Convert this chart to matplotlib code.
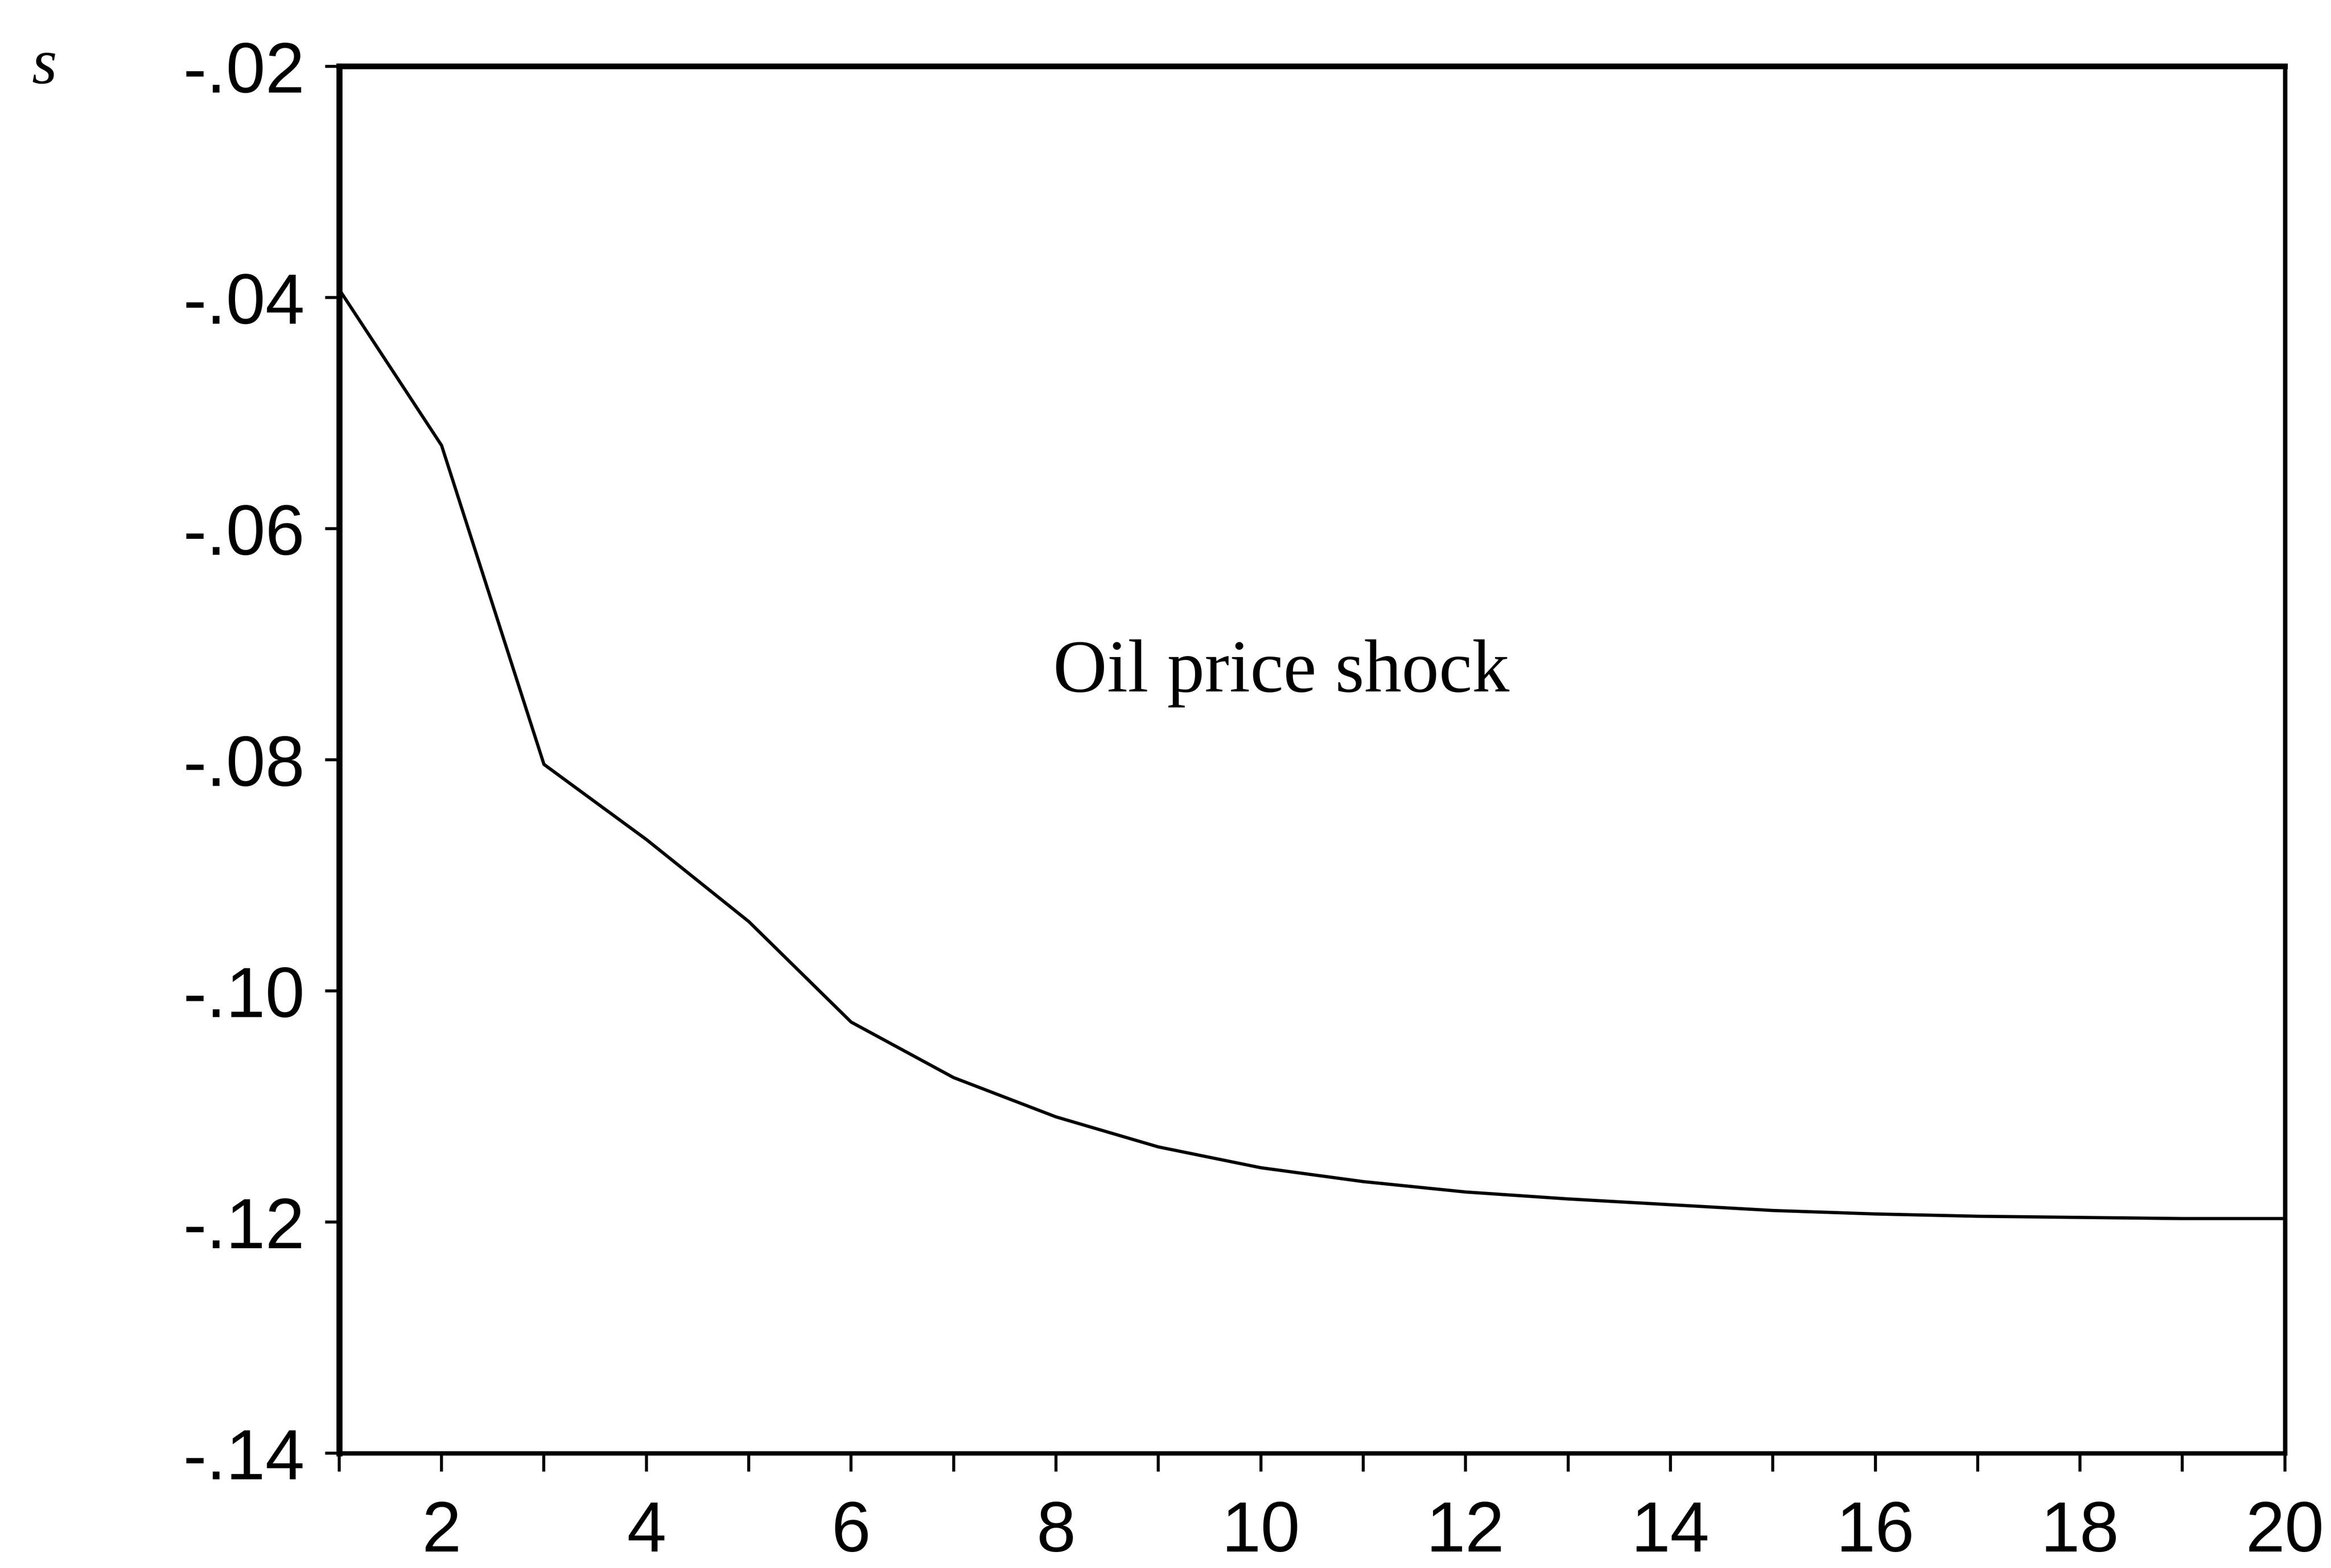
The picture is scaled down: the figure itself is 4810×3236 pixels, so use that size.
import matplotlib
matplotlib.use("Agg")
import matplotlib.pyplot as plt
from matplotlib.ticker import FixedLocator, FuncFormatter

# impulse response
periods = [1, 2, 3, 4, 5, 6, 7, 8, 9, 10, 11, 12, 13, 14, 15, 16, 17, 18, 19, 20]
response = [-0.0393, -0.0528, -0.0804, -0.0869, -0.0940, -0.1027, -0.1075, -0.1109,
            -0.1135, -0.1153, -0.1165, -0.1174, -0.1180, -0.1185, -0.1190, -0.1193,
            -0.1195, -0.1196, -0.1197, -0.1197]
yticks = [-0.14, -0.12, -0.10, -0.08, -0.06, -0.04, -0.02]
xlabels = [2, 4, 6, 8, 10, 12, 14, 16, 18, 20]

sans = ['Liberation Sans', 'DejaVu Sans']
serif = ['Liberation Serif', 'DejaVu Serif']

fig = plt.figure(figsize=(4810 / 300, 3237 / 300), dpi=300)
ax = fig.add_axes([0.1455, 0.0732, 0.8347, 0.8842])

ax.plot(periods, response, color='black', lw=1.6)

ax.set_xlim(1, 20)
ax.set_ylim(-0.14, -0.02)

ax.xaxis.set_major_locator(FixedLocator(xlabels))
ax.xaxis.set_minor_locator(FixedLocator([p for p in periods if p not in xlabels]))
ax.set_yticks(yticks)
# EViews style labels: -.02, -.04 ...
ax.yaxis.set_major_formatter(FuncFormatter(lambda v, p: '-' + ('%.2f' % abs(v))[1:]))

ax.tick_params(axis='x', which='both', direction='out', length=9, width=1.5, pad=14,
               labelsize=35)
ax.tick_params(axis='y', direction='out', length=7, width=1.5, pad=10, labelsize=35)
for lab in ax.get_xticklabels() + ax.get_yticklabels():
    lab.set_family(sans)

for sp in ax.spines.values():
    sp.set_linewidth(2.2)
ax.spines['left'].set_linewidth(3.0)
ax.spines['top'].set_linewidth(2.8)

ax.text(10.2, -0.0725, 'Oil price shock', family=serif, fontsize=37,
        ha='center', va='center')
fig.text(0.019, 0.957, 's', family=serif, style='italic', fontsize=32,
         ha='center', va='center')

fig.savefig('out.png', dpi=300)
